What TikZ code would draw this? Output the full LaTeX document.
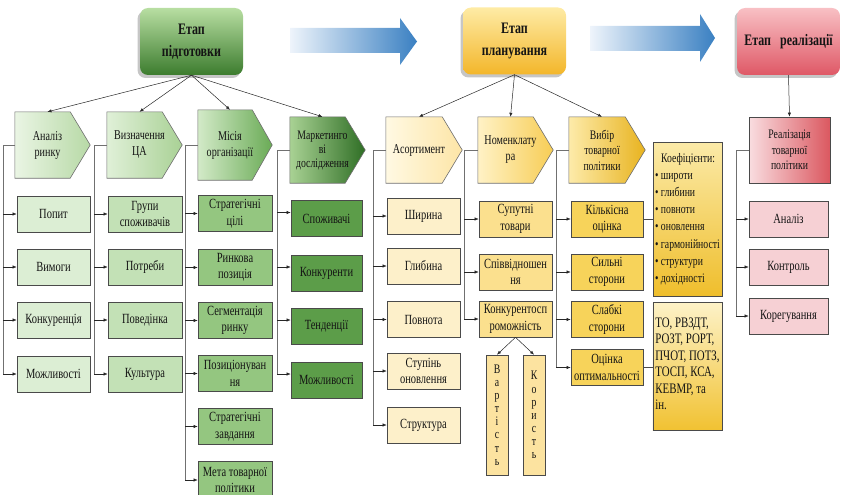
\documentclass[tikz,border=0pt]{standalone}
\usepackage{fontspec}
\setmainfont{Liberation Serif}[FakeStretch=0.75]
\usetikzlibrary{arrows.meta,shadows,backgrounds,calc}
\definecolor{gA1}{HTML}{EAF5E4}\definecolor{gA2}{HTML}{B7D9A6}\definecolor{gAb}{HTML}{DCEED4}
\definecolor{gB1}{HTML}{E0F0D8}\definecolor{gB2}{HTML}{A9D195}\definecolor{gBb}{HTML}{C3E1B6}
\definecolor{gC1}{HTML}{D3EAC8}\definecolor{gC2}{HTML}{6AAB56}\definecolor{gCb}{HTML}{94C680}
\definecolor{gD1}{HTML}{A9D294}\definecolor{gD2}{HTML}{2F6E25}\definecolor{gDb}{HTML}{5C9D49}
\definecolor{yA1}{HTML}{FFF9E3}\definecolor{yA2}{HTML}{FDE5A6}\definecolor{yAb}{HTML}{FDF0CA}
\definecolor{yB1}{HTML}{FFF2C6}\definecolor{yB2}{HTML}{F7CD55}\definecolor{yBb}{HTML}{FBE08E}
\definecolor{yC1}{HTML}{FDEBAA}\definecolor{yC2}{HTML}{E8B31F}\definecolor{yCb}{HTML}{F7D35A}
\definecolor{yV}{HTML}{FCE3A0}
\definecolor{kT}{HTML}{FBEAA8}\definecolor{kB}{HTML}{EFBE2C}
\definecolor{tT}{HTML}{FDF2C8}\definecolor{tB}{HTML}{F1C232}
\definecolor{rA1}{HTML}{F9DDE0}\definecolor{rA2}{HTML}{DB5860}\definecolor{rAb}{HTML}{F6D0D4}
\definecolor{hG1}{HTML}{B8DEA2}\definecolor{hG2}{HTML}{3C7C2E}
\definecolor{hY1}{HTML}{FEEBA5}\definecolor{hY2}{HTML}{F3B62A}
\definecolor{hR1}{HTML}{F8C0C4}\definecolor{hR2}{HTML}{DF5866}
\definecolor{arrL}{HTML}{EEF4FB}\definecolor{arrR}{HTML}{3A80C2}
\definecolor{edge}{HTML}{4A4A4A}\definecolor{spn}{HTML}{707070}
\begin{document}
\begin{tikzpicture}[x=1pt,y=-1pt,
  every node/.style={font=\fontsize{14}{16.5}\selectfont, align=center, inner sep=1pt, text=black!92},
  hdr/.style={rounded corners=8pt, minimum width=103pt, minimum height=67pt,
     font=\bfseries\fontsize{16}{22}\selectfont, shading angle=25,
     drop shadow={opacity=0.45, shadow xshift=-2.5pt, shadow yshift=-3pt}},
  pent/.style={minimum height=66pt, font=\fontsize{13.5}{16}\selectfont},
  lv/.style={draw=edge, line width=0.6pt, minimum height=36pt},
  c1/.style={lv, fill=gAb, minimum width=73pt},
  c2/.style={lv, fill=gBb, minimum width=74pt},
  c3/.style={lv, fill=gCb, minimum width=74pt},
  c4/.style={lv, fill=gDb, minimum width=71pt},
  c5/.style={lv, fill=yAb, minimum width=73pt},
  c6/.style={lv, fill=yBb, minimum width=73pt},
  c7/.style={lv, fill=yCb, minimum width=72pt},
  c8/.style={lv, fill=rAb, minimum width=79pt},
  vert/.style={lv, fill=yV, minimum width=22pt, minimum height=120pt, font=\fontsize{13}{13.1}\selectfont},
  arr/.style={draw=black!85, line width=0.5pt, -{Latex[length=4pt,width=3.2pt]}},
  spine/.style={draw=spn, line width=0.8pt},
  pentpath/.style={draw=edge!80, line width=0.6pt}
]
\useasboundingbox (0,0) rectangle (841,495);

% blue arrows
\shade[left color=arrL, right color=arrR] (290,28) -- (400,28) -- (400,18) -- (417,41.5) -- (400,65) -- (400,53) -- (290,53) -- cycle;
\shade[left color=arrL, right color=arrR] (590,26) -- (700,26) -- (700,14) -- (715,38) -- (700,62) -- (700,51) -- (590,51) -- cycle;

% headers
\node[hdr, top color=hG1, bottom color=hG2] (T1) at (191.5,41.5) {Етап\\підготовки};
\node[hdr, top color=hY1, bottom color=hY2] (T2) at (514.5,41) {Етап\\планування};
\node[hdr, top color=hR1, bottom color=hR2] (T3) at (788.5,41.5) {Етап\ \ \ реалізації};

% level 2
\node[pent, minimum width=65pt] (P1) at (47.5,145) {Аналіз\\ринку};
\node[pent, minimum width=65pt] (P2) at (139.5,145) {Визначення\\ЦА};
\node[pent, minimum width=64pt, minimum height=70pt] (P3) at (230,145) {Місія\\організації};
\node[pent, minimum width=65pt, font=\fontsize{13}{14}\selectfont] (P4) at (322.5,150) {Маркетинго\\ві\\дослідження};
\node[pent, minimum width=66pt] (P5) at (419,150) {Асортимент};
\node[pent, minimum width=65pt] (P6) at (510.5,150) {Номенклату\\ра};
\node[pent, minimum width=66pt, font=\fontsize{13}{15.5}\selectfont] (P7) at (602,150) {Вибір\\товарної\\політики};
\node[lv, minimum width=81pt, minimum height=66pt, left color=rA1, right color=rA2, font=\fontsize{13}{15.5}\selectfont] (R8) at (789.5,150) {Реалізація\\товарної\\політики};

\begin{scope}[on background layer]
\foreach \n/\a/\b in {P1/gA1/gA2, P2/gB1/gB2, P3/gC1/gC2, P4/gD1/gD2, P5/yA1/yA2, P6/yB1/yB2, P7/yC1/yC2}
  \path[pentpath, left color=\a, right color=\b] (\n.north west) -- ([xshift=-10pt]\n.north east) -- ([xshift=10pt]\n.east) -- ([xshift=-10pt]\n.south east) -- (\n.south west) -- cycle;
\end{scope}

% level 3, column 1
\node[c1] (b11) at (53.5,214) {Попит};
\node[c1] (b12) at (53.5,267) {Вимоги};
\node[c1] (b13) at (53.5,320) {Конкуренція};
\node[c1] (b14) at (53.5,374) {Можливості};
% column 2
\node[c2] (b21) at (145,214) {Групи\\споживачів};
\node[c2] (b22) at (145,267) {Потреби};
\node[c2] (b23) at (145,320) {Поведінка};
\node[c2] (b24) at (145,374) {Культура};
% column 3
\node[c3] (b31) at (235,213.5) {Стратегічні\\цілі};
\node[c3] (b32) at (235,267.5) {Ринкова\\позиція};
\node[c3] (b33) at (235,320.5) {Сегментація\\ринку};
\node[c3] (b34) at (235,373.5) {Позиціонуван\\ня};
\node[c3] (b35) at (235,426.5) {Стратегічні\\завдання};
\node[c3, minimum height=38pt] (b36) at (235,480) {Мета товарної\\політики};
% column 4
\node[c4] (b41) at (326.5,218.5) {Споживачі};
\node[c4] (b42) at (326.5,273) {Конкуренти};
\node[c4] (b43) at (326.5,326) {Тенденції};
\node[c4] (b44) at (326.5,380) {Можливості};
% column 5
\node[c5] (b51) at (423.5,216) {Ширина};
\node[c5] (b52) at (423.5,266) {Глибина};
\node[c5] (b53) at (423.5,319.5) {Повнота};
\node[c5] (b54) at (423.5,371) {Ступінь\\оновлення};
\node[c5] (b55) at (423.5,425) {Структура};
% column 6
\node[c6] (b61) at (515.5,219) {Супутні\\товари};
\node[c6] (b62) at (515.5,272) {Співвідношен\\ня};
\node[c6] (b63) at (515.5,319) {Конкурентосп\\роможність};
\node[vert] (v1) at (497,415) {В\\а\\р\\т\\і\\с\\т\\ь};
\node[vert] (v2) at (534,415) {К\\о\\р\\и\\с\\т\\ь};
% column 7
\node[c7] (b71) at (607,219) {Кількісна\\оцінка};
\node[c7] (b72) at (607,272) {Сильні\\сторони};
\node[c7] (b73) at (607,319.5) {Слабкі\\сторони};
\node[c7] (b74) at (607,367.5) {Оцінка\\оптимальності};
\node[lv, minimum width=69pt, minimum height=154pt, top color=kT, bottom color=kB, align=left, inner sep=1.5pt, font=\fontsize{13}{17.2}\selectfont] (koef) at (687.5,219)
  {\hspace*{6pt}Коефіцієнти:\\
   \textbullet\ широти\\ \textbullet\ глибини\\ \textbullet\ повноти\\ \textbullet\ оновлення\\
   \textbullet\ гармонійності\\ \textbullet\ структури\\ \textbullet\ дохідності};
\node[lv, minimum width=69pt, minimum height=128pt, top color=tT, bottom color=tB, align=left, inner sep=2.5pt, font=\fontsize{14.5}{16.5}\selectfont] (tobox) at (687.5,366)
  {ТО, РВЗДТ,\\РОЗТ, РОРТ,\\ПЧОТ, ПОТЗ,\\ТОСП, КСА,\\КЕВМР, та\\ін.\strut};
% column 8
\node[c8] (b81) at (788.5,219) {Аналіз};
\node[c8] (b82) at (788.5,267) {Контроль};
\node[c8] (b83) at (788.5,316) {Корегування};

% arrows from headers
\foreach \p in {P1,P2,P3,P4} \draw[arr] (T1.south) -- (\p.north);
\foreach \p in {P5,P6,P7} \draw[arr] (T2.south) -- (\p.north);
\draw[arr] (T3.south) -- (R8.north);

% spines
\coordinate (x1) at (3,0);   \coordinate (x2) at (94,0);  \coordinate (x3) at (185,0); \coordinate (x4) at (277,0);
\coordinate (x5) at (373,0); \coordinate (x6) at (464,0); \coordinate (x7) at (556,0); \coordinate (x8) at (736,0);
\draw[spine] (P1.west) -| (x1 |- b14.west);
\draw[spine] (P2.west) -| (x2 |- b24.west);
\draw[spine] (P3.west) -| (x3 |- b36.west);
\draw[spine] (P4.west) -| ([yshift=6pt]x4 |- b44.west);
\draw[spine] (P5.west) -| (x5 |- b55.west);
\draw[spine] (P6.west) -| (x6 |- b63.west);
\draw[spine] (P7.west) -| (x7 |- b74.west);
\draw[spine] (R8.west) -| (x8 |- b83.west);
\foreach \b in {b11,b12,b13,b14} \draw[arr] (x1 |- \b.west) -- (\b.west);
\foreach \b in {b21,b22,b23,b24} \draw[arr] (x2 |- \b.west) -- (\b.west);
\foreach \b in {b31,b32,b33,b34,b35,b36} \draw[arr] (x3 |- \b.west) -- (\b.west);
\foreach \b in {b41,b42,b43,b44} \draw[arr] ([yshift=6pt]x4 |- \b.west) -- ([yshift=6pt]\b.west);
\foreach \b in {b51,b52,b53,b54,b55} \draw[arr] (x5 |- \b.west) -- (\b.west);
\foreach \b in {b61,b62,b63} \draw[arr] (x6 |- \b.west) -- (\b.west);
\foreach \b in {b71,b72,b73,b74} \draw[arr] (x7 |- \b.west) -- (\b.west);
\foreach \b in {b81,b82,b83} \draw[arr] (x8 |- \b.west) -- (\b.west);

\draw[arr] (b63.south) -- (v1.north);
\draw[arr] (b63.south) -- (v2.north);
\draw[spine, draw=edge] (b71.east) -- (koef.west |- b71.east);
\draw[spine, draw=edge] (b74.east) -- (tobox.west |- b74.east);
\end{tikzpicture}
\end{document}
